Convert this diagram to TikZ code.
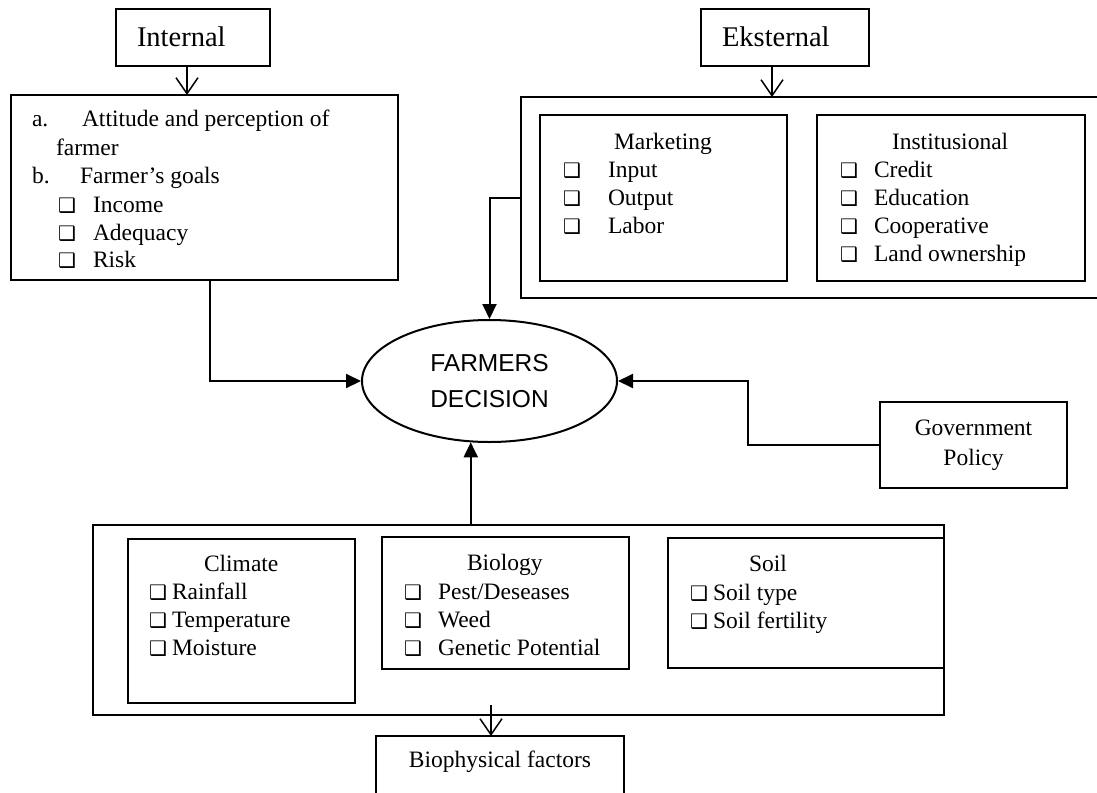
\documentclass[tikz,border=0pt]{standalone}
\usepackage{fontspec}
\setmainfont{Liberation Serif}
\newfontfamily\arialf{Liberation Sans}
\newfontfamily\dejavuf{DejaVu Sans}
\usetikzlibrary{shapes.geometric,arrows.meta}
\newcommand\chk{{\dejavuf\fontsize{20}{20}\selectfont ❑}}
\begin{document}
\begin{tikzpicture}[x=1pt,y=-1pt,
  box/.style={draw, line width=1.5pt, rectangle, inner sep=0pt, outer sep=0pt, anchor=north west},
  txt/.style={anchor=base west, inner sep=0pt, outer sep=0pt, font=\fontsize{23.5}{28}\selectfont},
  bigtxt/.style={anchor=base west, inner sep=0pt, outer sep=0pt, font=\fontsize{28.5}{34}\selectfont},
  conn/.style={line width=2pt, -{Triangle[length=15pt,width=14pt]}},
  openarr/.style={line width=1.5pt, -{Straight Barb[length=16pt,width=22pt,line width=1.5pt]}}
]
\useasboundingbox (0,0) rectangle (1097,792);
\clip (0,0) rectangle (1097,792);

% ---------- Internal ----------
\node[box, minimum width=154pt, minimum height=57pt] (internal) at (116,9) {};
\node[bigtxt] (internalt) at (137,47) {Internal};
\node[box, minimum width=387pt, minimum height=185pt] (intbox) at (11,95) {};
\node[txt] (ia) at (32,126) {a.};
\node[txt] (iat) at (82,126) {Attitude and perception of};
\node[txt] (iaf) at (56,155) {farmer};
\node[txt] (ib) at (32,183) {b.};
\node[txt] (ibt) at (80,183) {Farmer’s goals};
\node[txt] (ic1) at (58,212) {\chk};
\node[txt] (it1) at (93,212) {Income};
\node[txt] (ic2) at (58,240) {\chk};
\node[txt] (it2) at (93,240) {Adequacy};
\node[txt] (ic3) at (58,267) {\chk};
\node[txt] (it3) at (93,267) {Risk};

% ---------- Eksternal ----------
\node[box, minimum width=168pt, minimum height=57pt] (eksternal) at (701,9) {};
\node[bigtxt] (eksternalt) at (722,47) {Eksternal};
\node[box, minimum width=589pt, minimum height=201pt] (extbox) at (521,97) {};
\node[box, minimum width=247pt, minimum height=166pt] (market) at (540,115) {};
\node[txt] (mk) at (614,149) {Marketing};
\node[txt] (mc1) at (563,177) {\chk};
\node[txt] (mt1) at (608,177) {Input};
\node[txt] (mc2) at (563,205) {\chk};
\node[txt] (mt2) at (608,205) {Output};
\node[txt] (mc3) at (563,233) {\chk};
\node[txt] (mt3) at (608,233) {Labor};
\node[box, minimum width=268pt, minimum height=166pt] (instit) at (817,115) {};
\node[txt] (in) at (892,149) {Institusional};
\node[txt] (nc1) at (840,177) {\chk};
\node[txt] (nt1) at (874,177) {Credit};
\node[txt] (nc2) at (840,205) {\chk};
\node[txt] (nt2) at (874,205) {Education};
\node[txt] (nc3) at (840,233) {\chk};
\node[txt] (nt3) at (874,233) {Cooperative};
\node[txt] (nc4) at (840,261) {\chk};
\node[txt] (nt4) at (874,261) {Land ownership};

% ---------- Decision ----------
\node[ellipse, draw, line width=2pt, minimum width=255pt, minimum height=122pt,
      inner sep=0pt, align=center, font=\arialf\fontsize{24.5}{36}\selectfont] (dec) at (489.5,381) {FARMERS\\DECISION};

% ---------- Government ----------
\node[box, minimum width=187pt, minimum height=86pt, align=center,
      font=\fontsize{23.5}{30}\selectfont] (gov) at (880,402) {Government\\Policy};

% ---------- Biophysical ----------
\node[box, minimum width=851pt, minimum height=190pt] (bio) at (93,525) {};
\node[box, minimum width=227pt, minimum height=164pt] (climate) at (128,539) {};
\node[txt] (cl) at (204,571) {Climate};
\node[txt] (cc1) at (149,599) {\chk};
\node[txt] (ct1) at (172,599) {Rainfall};
\node[txt] (cc2) at (149,627) {\chk};
\node[txt] (ct2) at (172,627) {Temperature};
\node[txt] (cc3) at (149,655) {\chk};
\node[txt] (ct3) at (172,655) {Moisture};
\node[box, minimum width=247pt, minimum height=132pt] (biology) at (382,537) {};
\node[txt] (bl) at (467,570) {Biology};
\node[txt] (bc1) at (404,599) {\chk};
\node[txt] (bt1) at (438,599) {Pest/Deseases};
\node[txt] (bc2) at (404,627) {\chk};
\node[txt] (bt2) at (438,627) {Weed};
\node[txt] (bc3) at (404,655) {\chk};
\node[txt] (bt3) at (438,655) {Genetic Potential};
\node[box, minimum width=276pt, minimum height=130pt] (soil) at (668,538) {};
\node[txt] (sl) at (749,571) {Soil};
\node[txt] (sc1) at (690,600) {\chk};
\node[txt] (st1) at (713,600) {Soil type};
\node[txt] (sc2) at (690,628) {\chk};
\node[txt] (st2) at (713,628) {Soil fertility};
\node[box, minimum width=248pt, minimum height=70pt] (biophys) at (376,736) {};
\node[txt, anchor=base] (bpt) at (500,767) {Biophysical factors};

% ---------- Connectors ----------
\draw[openarr] ([xshift=-6pt]internal.south) -- ([xshift=-6pt]internal.south |- intbox.north);
\draw[openarr] ([xshift=-13pt]eksternal.south) -- ([xshift=-13pt]eksternal.south |- extbox.north);
\draw[conn] ([xshift=5.5pt]intbox.south) |- (dec.west);
\draw[conn] (extbox.west) -| (dec.north);
\draw[conn] (gov.west) -- ++(-132,0) |- (dec.east);
\draw[conn] (dec.253.8 |- bio.north) -- (dec.253.8);
\coordinate (bpin) at (491,705);
\draw[openarr] (bpin) -- ([xshift=-9pt]biophys.north);
\end{tikzpicture}
\end{document}
